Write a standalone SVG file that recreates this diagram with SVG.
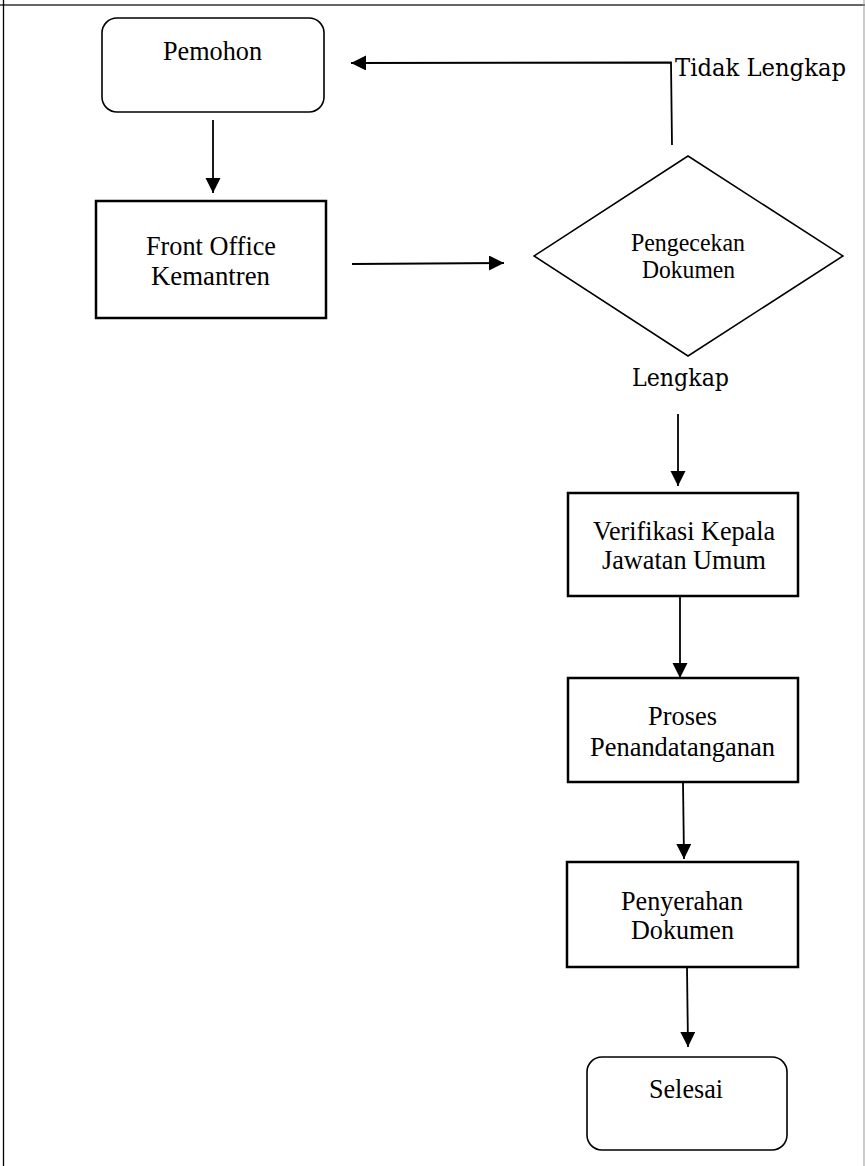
<svg xmlns="http://www.w3.org/2000/svg" width="865" height="1166" viewBox="0 0 865 1166">
<style>
.t{font-family:"Liberation Serif","Times New Roman",serif;font-size:27px;fill:#000}
.d{font-family:"Liberation Serif","Times New Roman",serif;font-size:25px;fill:#000}
.b{font-family:"DejaVu Serif","Liberation Serif",serif;font-size:25px;fill:#000}
.box{fill:#fff;stroke:#000;stroke-width:2.5}
.rnd{fill:#fff;stroke:#000;stroke-width:1.6}
.dia{fill:#fff;stroke:#000;stroke-width:1.5}
.con{fill:none;stroke:#000;stroke-width:1.8}
</style>
<defs>
<marker id="ah" markerUnits="userSpaceOnUse" markerWidth="16" markerHeight="16" refX="15" refY="7.5" orient="auto">
<path d="M0,0 L15,7.5 L0,15 z" fill="#000"/>
</marker>
</defs>
<rect width="865" height="1166" fill="#fff"/>
<g id="frame">
<line x1="0" y1="5" x2="865" y2="5" stroke="#333" stroke-width="1.3"/>
<line x1="3.5" y1="0" x2="3.5" y2="1166" stroke="#000" stroke-width="1.3"/>
<line x1="864" y1="0" x2="864" y2="1166" stroke="#999" stroke-width="1"/>
</g>
<g id="connectors">
<line class="con" x1="213" y1="120" x2="213" y2="193" marker-end="url(#ah)"/>
<line class="con" x1="352" y1="264" x2="504" y2="263" marker-end="url(#ah)"/>
<polyline class="con" points="672,145 671,62.5 351,63" marker-end="url(#ah)"/>
<line class="con" x1="678" y1="414" x2="678" y2="486" marker-end="url(#ah)"/>
<line class="con" x1="680" y1="596" x2="680" y2="678" marker-end="url(#ah)"/>
<line class="con" x1="683" y1="782" x2="684" y2="859" marker-end="url(#ah)"/>
<line class="con" x1="687" y1="967" x2="688" y2="1047" marker-end="url(#ah)"/>
</g>
<g id="pemohon">
<rect class="rnd" x="102" y="18" width="222" height="94" rx="15"/>
<text class="t" x="163" y="60" textLength="99" lengthAdjust="spacingAndGlyphs">Pemohon</text>
</g>
<g id="label-tidak">
<text class="b" x="675" y="76" textLength="171" lengthAdjust="spacingAndGlyphs">Tidak Lengkap</text>
</g>
<g id="front-office">
<rect class="box" x="96" y="201" width="230" height="117"/>
<text class="t" x="146" y="255" textLength="130" lengthAdjust="spacingAndGlyphs">Front Office</text>
<text class="t" x="151" y="285" textLength="119" lengthAdjust="spacingAndGlyphs">Kemantren</text>
</g>
<g id="pengecekan">
<polygon class="dia" points="688,156 843,256 688,356 534,256"/>
<text class="d" x="631" y="251" textLength="114" lengthAdjust="spacingAndGlyphs">Pengecekan</text>
<text class="d" x="642" y="278" textLength="93" lengthAdjust="spacingAndGlyphs">Dokumen</text>
</g>
<g id="label-lengkap">
<text class="b" x="632" y="386" textLength="97" lengthAdjust="spacingAndGlyphs">Lengkap</text>
</g>
<g id="verifikasi">
<rect class="box" x="568" y="493" width="230" height="103"/>
<text class="t" x="593" y="540" textLength="182" lengthAdjust="spacingAndGlyphs">Verifikasi Kepala</text>
<text class="t" x="602" y="569" textLength="164" lengthAdjust="spacingAndGlyphs">Jawatan Umum</text>
</g>
<g id="proses">
<rect class="box" x="568" y="678" width="230" height="104"/>
<text class="t" x="648" y="725" textLength="69" lengthAdjust="spacingAndGlyphs">Proses</text>
<text class="t" x="590" y="756" textLength="185" lengthAdjust="spacingAndGlyphs">Penandatanganan</text>
</g>
<g id="penyerahan">
<rect class="box" x="567" y="862" width="231" height="105"/>
<text class="t" x="621" y="910" textLength="122" lengthAdjust="spacingAndGlyphs">Penyerahan</text>
<text class="t" x="631" y="939" textLength="103" lengthAdjust="spacingAndGlyphs">Dokumen</text>
</g>
<g id="selesai">
<rect class="rnd" x="587" y="1057" width="200" height="93" rx="15"/>
<text class="t" x="649" y="1098" textLength="74" lengthAdjust="spacingAndGlyphs">Selesai</text>
</g>
</svg>
